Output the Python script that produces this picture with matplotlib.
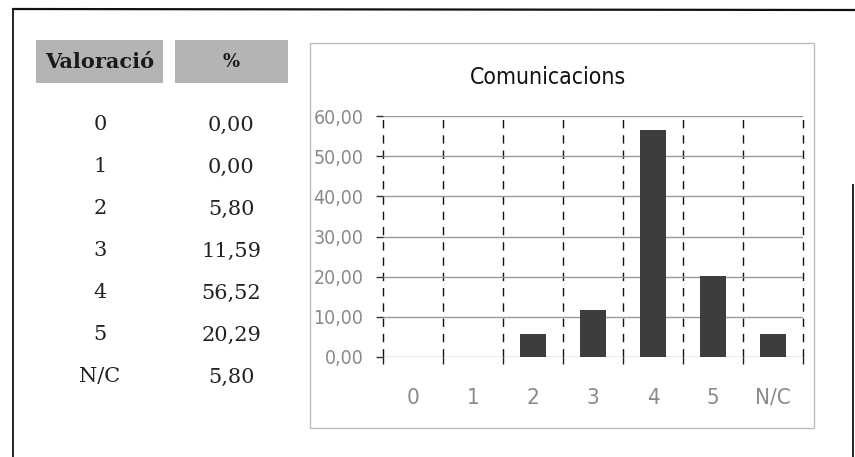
import matplotlib
matplotlib.use("Agg")
import matplotlib.pyplot as plt
import numpy as np
from matplotlib.patches import Rectangle
from matplotlib.lines import Line2D
from matplotlib.ticker import FuncFormatter, MultipleLocator
from matplotlib import font_manager as fm

categories = ["0", "1", "2", "3", "4", "5", "N/C"]
values = [0.00, 0.00, 5.80, 11.59, 56.52, 20.29, 5.80]
title = "Comunicacions"
col_headers = ["Valoració", "%"]

W, H = 855, 457
fig = plt.figure(figsize=(W / 100, H / 100), dpi=100)

def fx(px):
    return px / W

def fy(py):
    return 1 - py / H

# pick a condensed sans if one is installed
cond_fp = None
for f in fm.fontManager.ttflist:
    if "Condensed" in f.fname and "DejaVuSans" in f.fname and "Bold" not in f.fname and "Oblique" not in f.fname:
        cond_fp = f.fname
        break

def narrow_props(size):
    if cond_fp:
        return fm.FontProperties(fname=cond_fp, size=size)
    return fm.FontProperties(family="DejaVu Sans", size=size)

serif = ["DejaVu Serif"]

# outer page frame lines
fig.add_artist(Line2D([fx(13), fx(855)], [fy(9), fy(10)], color="#111111", lw=1.6))
fig.add_artist(Line2D([fx(13), fx(13)], [fy(9), fy(457)], color="#222222", lw=1.4))
fig.add_artist(Line2D([fx(853), fx(853)], [fy(185), fy(457)], color="#222222", lw=1.4))

# table headers
fig.add_artist(Rectangle((fx(36), fy(83)), fx(163) - fx(36), fy(40) - fy(83),
                         transform=fig.transFigure, facecolor="#b4b4b4", edgecolor="none"))
fig.add_artist(Rectangle((fx(175), fy(83)), fx(288) - fx(175), fy(40) - fy(83),
                         transform=fig.transFigure, facecolor="#b4b4b4", edgecolor="none"))
fig.text(fx(100), fy(62), col_headers[0], ha="center", va="center", family=serif,
         fontsize=15, fontweight="bold", color="#1a1a1a")
fig.text(fx(231), fy(62), col_headers[1], ha="center", va="center", family=serif,
         fontsize=13, fontweight="bold", color="#1a1a1a")

for i, (c, v) in enumerate(zip(categories, values)):
    ypx = 125 + i * 42
    fig.text(fx(100), fy(ypx), c, ha="center", va="center", family=serif,
             fontsize=15, color="#222222")
    fig.text(fx(231), fy(ypx), f"{v:.2f}".replace(".", ","), ha="center", va="center",
             family=serif, fontsize=15, color="#222222")

# chart box
fig.add_artist(Rectangle((fx(310), fy(428)), fx(814) - fx(310), fy(43) - fy(428),
                         transform=fig.transFigure, facecolor="none", edgecolor="#bdbdbd", lw=1.0))
fig.text(fx(548), fy(78), title, ha="center", va="center",
         fontproperties=narrow_props(16.5), color="#111111")

ax = fig.add_axes([fx(383), fy(357), fx(803) - fx(383), fy(116) - fy(357)])
x = np.arange(len(categories))
ax.bar(x, values, width=0.43, color="#3d3d3d", zorder=3)
ax.set_xlim(-0.5, len(categories) - 0.5)
ax.set_ylim(0, 60)
ax.yaxis.set_major_locator(MultipleLocator(10))
ax.yaxis.set_major_formatter(FuncFormatter(lambda v, p: f"{v:.2f}".replace(".", ",")))
ax.set_xticks(x)
ax.set_xticklabels(categories)
ax.set_xticks(np.arange(len(categories) + 1) - 0.5, minor=True)
ax.grid(axis="y", which="major", color="#9a9a9a", lw=1.0, zorder=1)
ax.grid(axis="x", which="minor", color="#111111", lw=1.0, ls=(0, (6, 5)), zorder=2)
ax.grid(axis="x", which="major", visible=False)
for t in ax.xaxis.get_minor_ticks():
    t.gridline.set_clip_on(False)
for s in ax.spines.values():
    s.set_visible(False)
ax.tick_params(axis="x", which="major", length=0, pad=22, labelcolor="#8a8a8a")
ax.tick_params(axis="x", which="minor", length=5, direction="out", color="#222222", width=1)
ax.tick_params(axis="y", which="major", length=5, direction="out", color="#333333", width=1,
               pad=9, labelcolor="#8a8a8a")
for lab in ax.get_xticklabels():
    lab.set_fontproperties(narrow_props(16))
for lab in ax.get_yticklabels():
    lab.set_fontproperties(narrow_props(14))
ax.patch.set_alpha(0)

fig.savefig("out.png", dpi=100)
